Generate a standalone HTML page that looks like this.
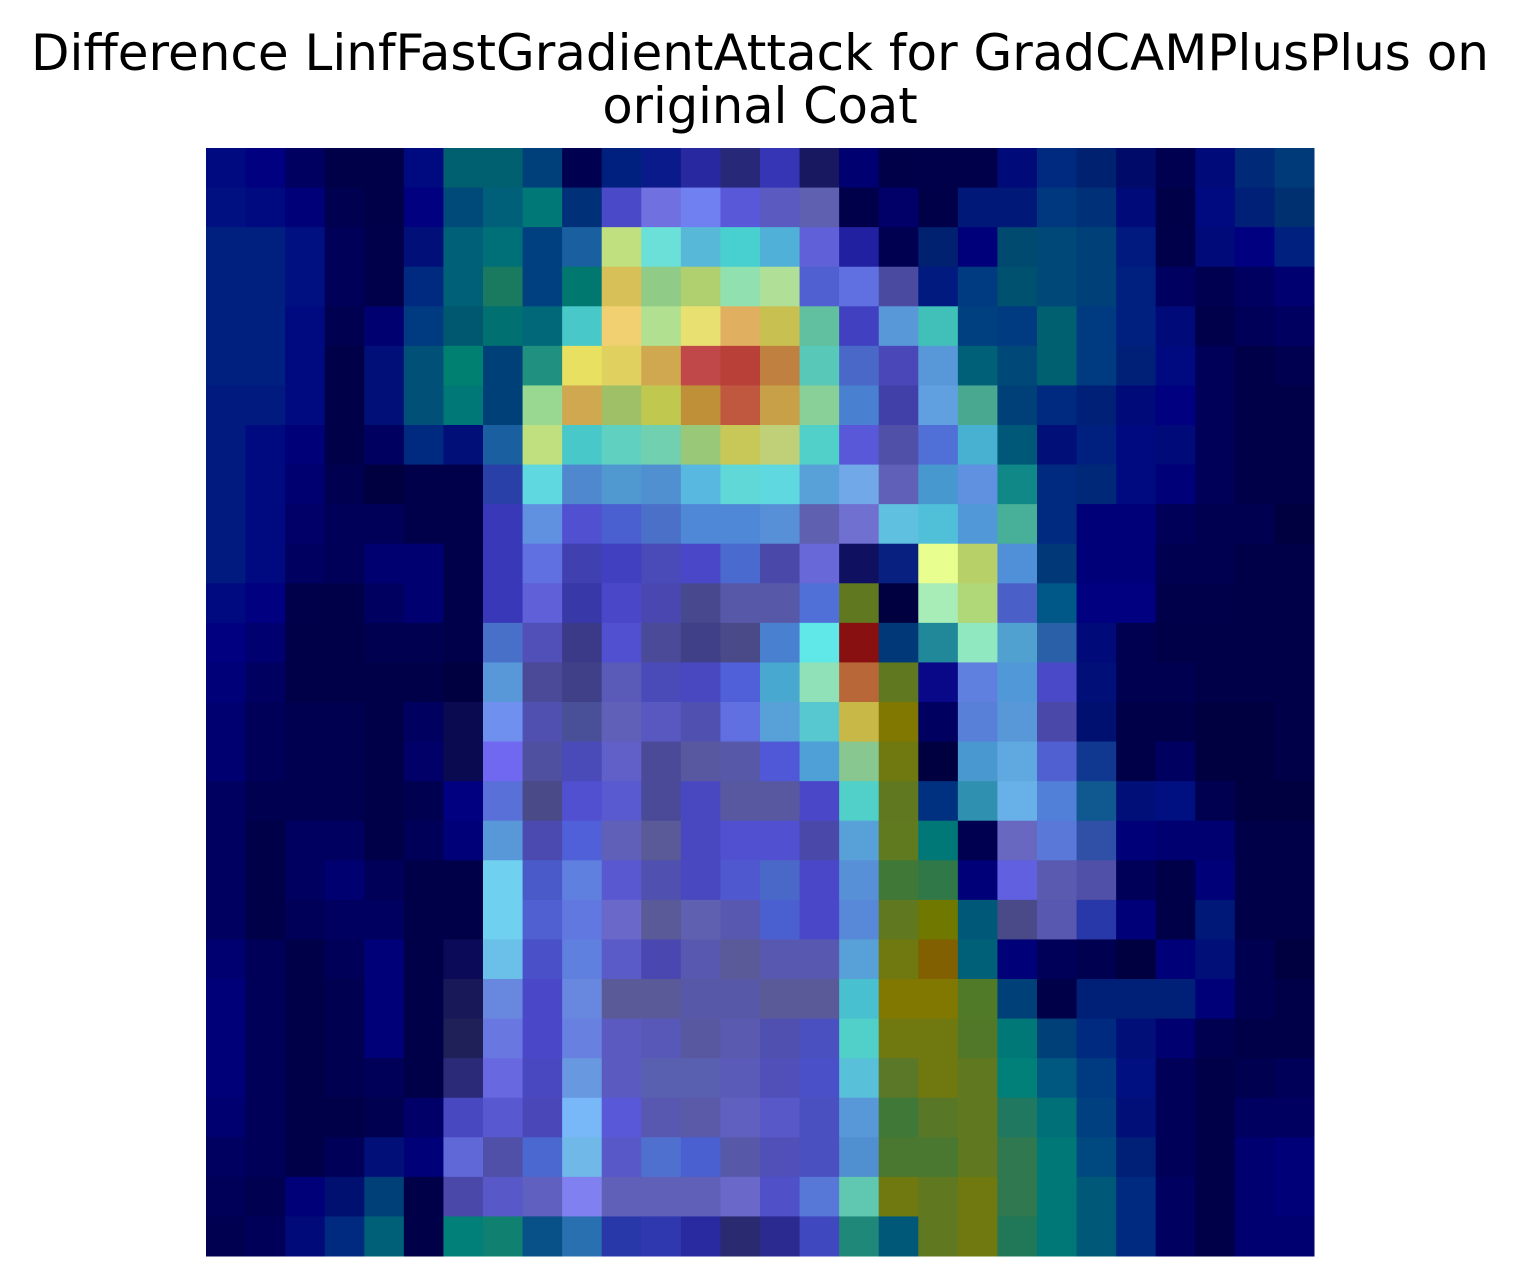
<!DOCTYPE html>
<html><head><meta charset="utf-8">
<style>
html,body{margin:0;padding:0;background:#fff;width:1520px;height:1287px;overflow:hidden;}
svg{display:block;}
</style></head>
<body>
<svg id="chart" width="1520" height="1287" xmlns="http://www.w3.org/2000/svg">
<text x="760" y="70" text-anchor="middle" font-family="DejaVu Sans, Liberation Sans, sans-serif" font-size="49.5" textLength="1458" lengthAdjust="spacingAndGlyphs" fill="#000">Difference LinfFastGradientAttack for GradCAMPlusPlus on</text>
<text x="760" y="123" text-anchor="middle" font-family="DejaVu Sans, Liberation Sans, sans-serif" font-size="49.5" fill="#000">original Coat</text>
<g id="cells"></g>
</svg>
<script>
const rowIndex = [...Array(28).keys()];
const colIndex = [...Array(28).keys()];
const cellColors = [
"#000a80 #000080 #000060 #000048 #000048 #000a80 #006070 #006070 #00407a #000050 #002080 #0a1a8a #2828a0 #282878 #3535b5 #181860 #000070 #000048 #00004a #00004a #000a78 #002a80 #002070 #000a68 #000050 #000a78 #002a78 #003a78",
"#001080 #000a80 #000078 #000050 #000048 #000080 #004a7a #00607a #007878 #003078 #4a4ac8 #7070e0 #7080f0 #5858d8 #5a5ac0 #6060b0 #00004a #000068 #000048 #001878 #001878 #003880 #003078 #000a78 #000048 #000a80 #002078 #003070",
"#002080 #002080 #001080 #000058 #00004a #001078 #006078 #007078 #004080 #1a60a0 #c0e080 #6ae0d8 #58b8d8 #48d0d0 #50b0d8 #6060d8 #2020a0 #000050 #002070 #00007a #004a70 #004878 #004078 #001a80 #00004a #000a78 #000080 #002080",
"#002080 #002080 #001080 #000058 #00004a #002a80 #006078 #1a7a60 #004080 #007870 #d8c058 #90cc88 #b0d070 #90e0b0 #b0e098 #5060d0 #6070e0 #4a4aa0 #001a80 #003a80 #005070 #004878 #004078 #002080 #000060 #000050 #000060 #000070",
"#002080 #002080 #000a80 #000050 #000070 #003a80 #005870 #007070 #006878 #48c8c8 #f0d070 #b0e090 #e8e070 #e0b060 #c8c050 #60c0a0 #4040c0 #5898d8 #40c0b8 #004080 #003a80 #006070 #003a80 #002080 #000a78 #00004a #000058 #000060",
"#002080 #002080 #000a80 #000048 #001078 #005078 #008070 #004078 #209080 #e8e060 #e0d060 #d0a850 #c04848 #b84038 #c08040 #58c8b8 #4a68c8 #4a48b8 #5898d8 #006078 #004878 #006070 #003a80 #002078 #000a80 #000058 #000048 #000050",
"#001a80 #001a80 #000a80 #000048 #001078 #005078 #007878 #004078 #98d890 #d0a850 #a0c068 #c0c850 #c09038 #c05840 #c8a048 #88d098 #4a80d0 #4040a8 #60a0e0 #48a890 #004078 #002a80 #002078 #000a78 #000080 #000058 #000048 #000048",
"#001a80 #000a80 #000078 #000048 #000060 #002a80 #001078 #1a60a0 #c0e080 #48c8c8 #60d0c0 #70d0b0 #98c878 #c8c858 #c0d078 #50d0c8 #5858d8 #5050a8 #5070d8 #48b0d0 #005878 #001078 #002080 #000a80 #000a78 #000058 #000048 #000048",
"#001a80 #000a80 #000070 #000050 #000040 #00004a #00004a #2840a8 #60d8e0 #5088d0 #5098d0 #5090d0 #58b8e0 #60d8d8 #60d8e0 #58a0d8 #70a8e8 #6060b8 #4898d0 #6090e0 #108888 #002a80 #002878 #000a80 #000078 #000058 #000048 #000048",
"#001a80 #000a80 #000068 #000058 #000058 #00004a #00004a #3838b8 #6090e0 #5050d0 #4a60d0 #4a70c8 #5088d8 #5088d8 #5890d8 #6060b0 #7070d0 #60c0e0 #50c0d8 #5098d8 #48b098 #002a80 #000078 #000078 #000058 #000050 #000050 #000040",
"#001a80 #000a80 #000060 #000058 #000070 #000070 #00004a #3838b8 #6070e0 #4040b0 #4040c0 #4a4ab8 #4a48c8 #4a6ad0 #4a48a8 #6868d8 #101060 #082080 #e8ff90 #b8d068 #5090d8 #003878 #000078 #000078 #000050 #000050 #000048 #000048",
"#000a80 #000080 #00004a #000048 #000060 #000070 #00004a #3838b8 #6060d8 #3838a8 #4a48c8 #4a48b0 #48488f #5858a8 #5858a8 #5070d8 #607820 #000040 #a8ecb8 #b0d878 #4a60c8 #005888 #000080 #000080 #00004a #00004a #000048 #000048",
"#000080 #000070 #000048 #000048 #000050 #000050 #00004a #4870c8 #5050b8 #3a3a88 #5050d0 #4a4a98 #404088 #4a4a88 #4a80d0 #60e8e8 #881010 #003878 #208898 #90e8c0 #50a0d0 #2a60a8 #000a78 #000050 #000048 #000048 #000048 #000048",
"#000078 #000060 #000048 #000048 #000048 #000048 #000040 #5898d8 #4a4a98 #404088 #5a5ab8 #4a4ab8 #4a48c0 #5060d8 #48a8d0 #90e0b8 #b86838 #607820 #080888 #6080e0 #5098d8 #4a4ac8 #001078 #000050 #000050 #000048 #000048 #000048",
"#000070 #000058 #000050 #000050 #000048 #000060 #0a0a50 #7090f0 #5050b0 #4a5098 #6060b8 #5858c0 #5050b0 #6070e0 #58a0d8 #58c8d0 #c8b848 #807800 #000060 #5880d8 #5898d8 #4a48a8 #001070 #000048 #000048 #000040 #000040 #000048",
"#000070 #000058 #000050 #000050 #000048 #000068 #0a0a50 #7068f0 #5050a0 #4a4ab8 #6060c8 #4a4a98 #5858a0 #5858a8 #5058d8 #50a0d8 #88c890 #707810 #000040 #4a98d0 #60a8e0 #5060d0 #103890 #000048 #000060 #000040 #000040 #000048",
"#000060 #000050 #000050 #000050 #000048 #000050 #000080 #5870d8 #4a4a88 #5050d0 #5a5ad0 #4a4a98 #4a48c0 #5858a0 #5858a0 #4a48c8 #50d0c8 #607820 #003080 #3090b0 #68b0e8 #5080d8 #105890 #001078 #001080 #000050 #000040 #000040",
"#000060 #000048 #000060 #000060 #000048 #000058 #000078 #5898d8 #4a4ab0 #5060d8 #6060b8 #5a5a98 #4a48c0 #5050d0 #5050d0 #4a48a8 #58a0d8 #607a20 #007878 #000050 #6868c0 #5a78d8 #3050a8 #000078 #000070 #000070 #000048 #000048",
"#000060 #000048 #000060 #000070 #000058 #000048 #000048 #70d0f0 #4a5ac8 #6080e0 #5a58d0 #5050b0 #4a48c0 #5058d0 #4a68c8 #4a48c8 #5890d8 #407838 #307848 #000078 #6060e0 #5a5ab0 #5050a8 #000058 #000048 #000078 #000048 #000048",
"#000060 #000048 #000058 #000060 #000060 #000048 #000048 #70d0f0 #5060d0 #6078e0 #6a68c8 #5a5a98 #6060b0 #5858b0 #4a60d0 #4a48c8 #5888d8 #607820 #707800 #005878 #4a4a88 #5858b0 #2838a8 #000078 #000048 #001878 #000048 #000048",
"#000070 #000058 #000048 #000058 #000078 #000048 #0a0a58 #6ac0e8 #4a50c8 #6080e0 #5a5ac8 #4a48b0 #5858b0 #5a5a98 #5858b0 #5858b0 #58a0d8 #707810 #806000 #006078 #000078 #000058 #000050 #000040 #000078 #001078 #000050 #000040",
"#000078 #000058 #000048 #000050 #000078 #000048 #181858 #6888e0 #4a48c8 #6888e0 #5a5a98 #5a5a98 #5858a8 #5858a8 #5a5a98 #5a5a98 #48c0d0 #807800 #807800 #507a28 #004078 #000048 #002078 #002078 #002078 #000078 #000050 #000048",
"#000078 #000058 #000048 #000050 #000078 #000048 #202058 #6878e0 #4a48c8 #6880e0 #5a5ac0 #5858b8 #5858a0 #5a5ab0 #5050b0 #4a50c0 #50d0c8 #707810 #707810 #507828 #007878 #004078 #002a80 #001078 #000070 #000050 #000048 #000048",
"#000078 #000058 #000048 #000050 #000058 #000048 #2a2a78 #6868e0 #4a48c0 #6898e0 #5a5ac0 #5a60b0 #5a60b0 #5a5ab8 #5050b8 #4a50c8 #58c0d8 #5a7828 #707810 #607820 #008078 #005880 #003a80 #001080 #000058 #000048 #000050 #000058",
"#000070 #000058 #000048 #000048 #000050 #000068 #4848c0 #5858d0 #4a48b8 #78b8f8 #5858d8 #5858b0 #5a5aa8 #6060c0 #5858c8 #4a50c0 #5898d8 #407838 #587828 #607820 #207860 #007078 #004080 #001078 #000058 #000048 #000060 #000060",
"#000060 #000058 #000048 #000058 #001078 #000078 #6068d8 #5050a8 #4a68d0 #70b8e8 #5858c8 #5070d0 #4a60d0 #5858a8 #5050b8 #4a50c0 #5090d0 #4a7830 #4a7830 #607820 #307850 #007878 #004880 #002078 #000058 #000048 #000070 #000078",
"#000058 #000050 #000078 #001070 #004078 #000048 #4a48a8 #5858c8 #6060c0 #8080f0 #6060b8 #6060b8 #6060b8 #6a68c8 #5050c8 #5878d8 #60c8b0 #707810 #607820 #707810 #307850 #007878 #005878 #002a80 #000060 #000048 #000070 #000078",
"#000050 #000058 #000a78 #002a80 #006078 #000048 #008078 #108070 #085088 #2870b0 #2838a8 #3038b0 #2a2aa0 #2a2a70 #2a2a90 #4048c0 #208878 #005878 #607820 #707810 #207858 #007878 #005878 #002a80 #000060 #000048 #000070 #000070"
];
const X0 = 206, Y0 = 148, W = 1108, H = 1108;
const xScale = c => X0 + c * W / colIndex.length;
const yScale = r => Y0 + r * H / rowIndex.length;
const g = document.getElementById('cells');
const NS = 'http://www.w3.org/2000/svg';
rowIndex.forEach(r => {
  const cols = cellColors[r].split(' ');
  cols.forEach((col, c) => {
    const rect = document.createElementNS(NS, 'rect');
    const x = xScale(c), y = yScale(r);
    rect.setAttribute('x', x);
    rect.setAttribute('y', y);
    rect.setAttribute('width', xScale(c + 1) - x + 0.5);
    rect.setAttribute('height', yScale(r + 1) - y + 0.5);
    rect.setAttribute('fill', col);
    
    
    g.appendChild(rect);
  });
});
</script>
</body></html>
